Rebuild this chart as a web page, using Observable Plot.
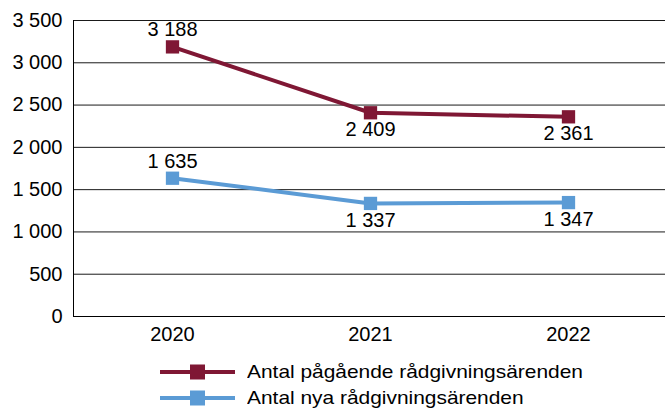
<!DOCTYPE html>
<html>
<head>
<meta charset="utf-8">
<script src="https://cdn.jsdelivr.net/npm/d3@7"></script>
<script src="https://cdn.jsdelivr.net/npm/@observablehq/plot@0.6"></script>
<style>
  html, body { margin: 0; padding: 0; background: #fff; }
  body { width: 665px; height: 409px; overflow: hidden; font-family: "Liberation Sans", Arial, sans-serif; }
  #legend { position: absolute; left: 160px; top: 359px; font-size: 18.5px; color: #000; }
  .row { display: flex; align-items: center; height: 26px; }
  .row svg { margin-right: 12px; }
  .row span { display: inline-block; transform: scaleX(1.13); transform-origin: left center; white-space: nowrap; }
</style>
</head>
<body>
<div id="chart"></div>
<div id="legend"></div>
<script>
const years = ["2020", "2021", "2022"];
const ongoing = [3188, 2409, 2361];
const newCases = [1635, 1337, 1347];
const seriesNames = ["Antal pågående rådgivningsärenden", "Antal nya rådgivningsärenden"];
const colors = ["#7f1734", "#5b9bd5"];
const yTicks = [0, 500, 1000, 1500, 2000, 2500, 3000, 3500];

const locale = d3.formatLocale({decimal: ",", thousands: " ", grouping: [3], currency: ["", " kr"]});
const fmt = locale.format(",d");

const data = [];
years.forEach((y, i) => {
  data.push({year: y, value: ongoing[i], series: seriesNames[0], pos: i === 0 ? "top" : "bottom"});
  data.push({year: y, value: newCases[i], series: seriesNames[1], pos: i === 0 ? "top" : "bottom"});
});

const FS = 20;
const chart = Plot.plot({
  width: 665,
  height: 350,
  marginLeft: 73,
  marginRight: -2,
  marginTop: 20,
  marginBottom: 34,
  style: {fontFamily: "Liberation Sans, Arial, sans-serif", fontSize: FS + "px", color: "#000", background: "#fff"},
  x: {type: "band", domain: years, padding: 0, label: null},
  y: {domain: [0, 3500], ticks: yTicks, label: null, tickFormat: fmt},
  color: {domain: seriesNames, range: colors},
  marks: [
    Plot.gridY(yTicks, {stroke: "#1a1a1a", strokeOpacity: 1, strokeWidth: 1}),
    Plot.axisY({ticks: yTicks, tickSize: 0, tickPadding: 11, tickFormat: fmt, fontSize: FS, label: null}),
    Plot.axisX({tickSize: 0, tickPadding: 10, fontSize: FS, label: null}),
    Plot.frame({anchor: "left", stroke: "#000"}),
    Plot.ruleY([0], {stroke: "#000"}),
    Plot.lineY(data, {x: "year", y: "value", z: "series", stroke: "series", strokeWidth: 4}),
    Plot.dot(data, {x: "year", y: "value", fill: "series", symbol: "square", r: 7.5, stroke: "none"}),
    Plot.text(data.filter(d => d.pos === "top"), {x: "year", y: "value", text: d => fmt(d.value), dy: -17, fontSize: FS, fill: "#000"}),
    Plot.text(data.filter(d => d.pos === "bottom"), {x: "year", y: "value", text: d => fmt(d.value), dy: 17, fontSize: FS, fill: "#000"})
  ]
});
document.getElementById("chart").appendChild(chart);

const legend = document.getElementById("legend");
seriesNames.forEach((name, i) => {
  const row = document.createElement("div");
  row.className = "row";
  row.innerHTML = `<svg width="75" height="16"><line x1="0" x2="75" y1="8" y2="8" stroke="${colors[i]}" stroke-width="4"/><rect x="30" y="0.5" width="15" height="15" fill="${colors[i]}"/></svg><span>${name}</span>`;
  legend.appendChild(row);
});
</script>
</body>
</html>
